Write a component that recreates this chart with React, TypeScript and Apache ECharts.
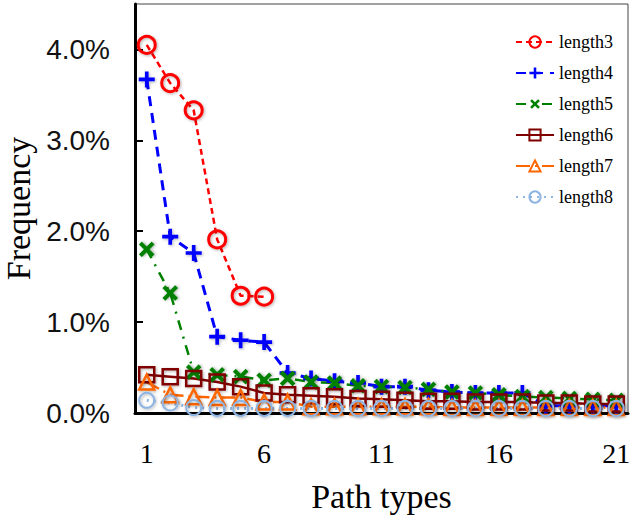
import React, { useEffect, useRef } from "react";
import * as echarts from "echarts";

const categories = ["1","2","3","4","5","6","7","8","9","10","11","12","13","14","15","16","17","18","19","20","21"];
const yTicks = [0, 1, 2, 3, 4];
const seriesNames = ["length3", "length4", "length5", "length6", "length7", "length8"];

const length3 = [4.05, 3.63, 3.33, 1.91, 1.29, 1.28];
const length4 = [3.67, 1.94, 1.76, 0.84, 0.80, 0.78, 0.44, 0.38, 0.35, 0.33, 0.29, 0.29, 0.25, 0.23, 0.22, 0.22, 0.22, 0.08, 0.08, 0.08, 0.08];
const length5 = [1.80, 1.32, 0.45, 0.42, 0.40, 0.36, 0.38, 0.34, 0.33, 0.30, 0.29, 0.28, 0.26, 0.23, 0.22, 0.20, 0.18, 0.17, 0.16, 0.15, 0.14];
const length6 = [0.42, 0.40, 0.38, 0.34, 0.29, 0.22, 0.20, 0.19, 0.18, 0.16, 0.15, 0.14, 0.13, 0.13, 0.12, 0.12, 0.12, 0.11, 0.11, 0.10, 0.10];
const length7 = [0.34, 0.20, 0.18, 0.17, 0.17, 0.12, 0.12, 0.07, 0.07, 0.07, 0.07, 0.07, 0.07, 0.06, 0.06, 0.06, 0.06, 0.06, 0.06, 0.06, 0.06];
const length8 = [0.14, 0.11, 0.06, 0.05, 0.05, 0.05, 0.05, 0.05, 0.05, 0.05, 0.05, 0.05, 0.05, 0.05, 0.05, 0.05, 0.05, 0.05, 0.05, 0.05, 0.05];

const PLUS = "path://M-1.6,-7H1.6V-1.6H7V1.6H1.6V7H-1.6V1.6H-7V-1.6H-1.6Z";
const shadow = { shadowColor: "rgba(0,0,0,0.3)", shadowBlur: 3, shadowOffsetX: 1, shadowOffsetY: 1 };
const CLEAR = "rgba(255,255,255,0)";

export default function App() {
  const ref = useRef<HTMLDivElement>(null);
  useEffect(() => {
    if (!ref.current) return;
    const chart = echarts.init(ref.current, null, { renderer: "svg" });
    const serif = "'Liberation Serif', 'Times New Roman', serif";
    const sans = "'Liberation Sans', Arial, sans-serif";
    const common = { type: "line", showAllSymbol: true, showSymbol: true };
    chart.setOption({
      animation: false,
      backgroundColor: "#fff",
      grid: {
        left: 135, right: 2, top: 4, bottom: 109,
        show: true, borderColor: "#444", borderWidth: 1,
        containLabel: false, outerBoundsMode: "none",
      },
      legend: {
        orient: "vertical",
        left: 510,
        top: 28,
        itemWidth: 38,
        itemHeight: 14,
        itemGap: 13,
        data: seriesNames,
        textStyle: { fontFamily: serif, fontSize: 18, color: "#000" },
      },
      xAxis: {
        type: "category",
        data: categories,
        boundaryGap: true,
        axisLine: { lineStyle: { color: "#000", width: 3 } },
        axisTick: { show: false },
        axisLabel: { interval: 4, fontFamily: serif, fontSize: 28, color: "#000", margin: 26 },
        name: "Path types",
        nameLocation: "middle",
        nameGap: 66,
        nameTextStyle: { fontFamily: serif, fontSize: 34, color: "#000" },
      },
      yAxis: {
        type: "value",
        min: yTicks[0],
        max: 4.5,
        interval: 1,
        splitLine: { show: false },
        axisLine: { show: true, lineStyle: { color: "#000", width: 3 } },
        axisTick: { show: true, inside: true, length: 8, lineStyle: { color: "#000", width: 2 } },
        axisLabel: {
          showMaxLabel: false,
          fontFamily: sans, fontSize: 28, color: "#111", margin: 25,
          formatter: (v: number) => (yTicks.includes(v) ? `${v.toFixed(1)}%` : ""),
        },
        name: "Frequency",
        nameLocation: "middle",
        nameGap: 96,
        nameTextStyle: { fontFamily: serif, fontSize: 34, color: "#000" },
      },
      series: [
        {
          ...common, name: "length3", data: length3,
          symbol: "circle", symbolSize: 17,
          lineStyle: { color: "#ff0000", width: 2.5, type: [6, 4] },
          itemStyle: { color: CLEAR, borderColor: "#ff0000", borderWidth: 3, ...shadow },
        },
        {
          ...common, name: "length4", data: length4,
          symbol: PLUS, symbolSize: 16,
          lineStyle: { color: "#0000ff", width: 3, type: [10, 7] },
          itemStyle: { color: "#0000ff", borderWidth: 0, ...shadow },
        },
        {
          ...common, name: "length5", data: length5,
          symbol: PLUS, symbolSize: 18, symbolRotate: 45,
          lineStyle: { color: "#008000", width: 2.5, type: [10, 7, 2, 7] },
          itemStyle: { color: "#008000", borderWidth: 0, ...shadow },
        },
        {
          ...common, name: "length6", data: length6,
          symbol: "rect", symbolSize: 15,
          lineStyle: { color: "#800000", width: 2.5, type: "solid" },
          itemStyle: { color: CLEAR, borderColor: "#800000", borderWidth: 2.5, ...shadow },
        },
        {
          ...common, name: "length7", data: length7,
          symbol: "triangle", symbolSize: 15,
          lineStyle: { color: "#ff6600", width: 2.5, type: [14, 5, 2, 5] },
          itemStyle: { color: CLEAR, borderColor: "#ff6600", borderWidth: 2.5, ...shadow },
        },
        {
          ...common, name: "length8", data: length8,
          symbol: "circle", symbolSize: 15,
          lineStyle: { color: "#8db4e2", width: 3, type: [2, 5] },
          itemStyle: { color: CLEAR, borderColor: "#8db4e2", borderWidth: 2, ...shadow },
        },
      ],
    });
    return () => chart.dispose();
  }, []);
  return <div ref={ref} style={{ position: "fixed", left: 0, top: 0, width: 630, height: 522 }} />;
}
